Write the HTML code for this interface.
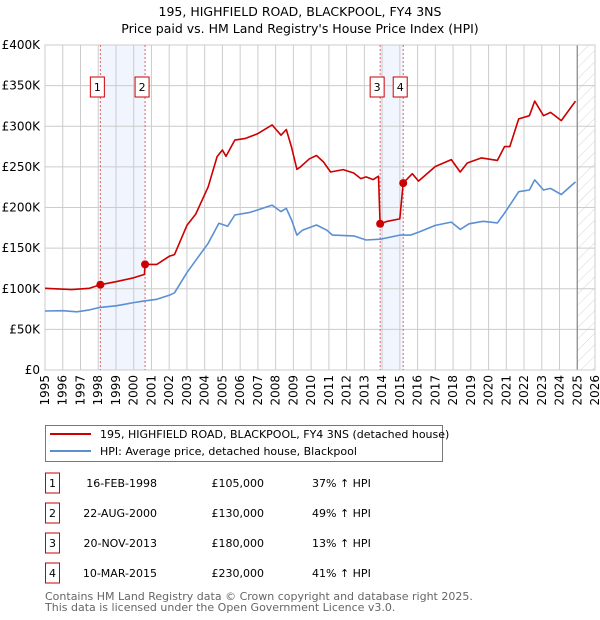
<!DOCTYPE html>
<html><head><meta charset="utf-8"><style>
body{margin:0;background:#fff;font-family:"Liberation Sans","DejaVu Sans",sans-serif;}
#wrap{position:relative;width:600px;height:620px;overflow:hidden}
svg text{font-family:"DejaVu Sans","Liberation Sans",sans-serif}
</style></head><body><div id="wrap">
<svg id="chart" width="600" height="620"></svg>
</div>
<script>
const hpiYears=[1995,1996,1996.8,1997.5,1998.1,1999,2000,2000.6,2001.3,2002,2002.3,2003,2003.5,2004.2,2004.8,2005.3,2005.7,2006.5,2007,2007.8,2008.3,2008.6,2008.9,2009.2,2009.5,2010.3,2010.9,2011.2,2012.4,2013.1,2013.9,2015,2015.6,2016.1,2017,2017.9,2018.4,2018.9,2019.7,2020.5,2020.9,2021.7,2022.3,2022.6,2023.1,2023.5,2024.1,2024.9];
const hpiValues=[72.6,73,71.6,74,77,79,83,85,87,92,95,119.8,135,156,180.5,177,190.8,193.7,197,203,195,199,184.6,166,172,178.5,172,166,165,160,161,166,166,170,178,182,173,180,183,181,193,219.5,221.5,234,221.5,223.5,216,231.5];
const priceYears=[1995,1996.5,1997.5,1998.12,1999,2000,2000.6,2000.64,2001.3,2002,2002.3,2003,2003.5,2004.2,2004.7,2005,2005.2,2005.7,2006.3,2007,2007.8,2008.3,2008.6,2008.9,2009.2,2009.4,2009.9,2010.3,2010.7,2011.1,2011.8,2012.4,2012.8,2013.1,2013.5,2013.8,2013.89,2014.3,2015.0,2015.19,2015.7,2016.05,2017,2017.9,2018.4,2018.8,2019.6,2020.5,2020.9,2021.2,2021.7,2022.3,2022.6,2023.1,2023.5,2024.1,2024.9];
const priceValues=[100.5,99,100.5,105,108.7,113.5,117.6,130,130,140,142,178,192,225.5,262.6,270.8,263,283,285,291,301.6,289,296,274,247,250,260,264,256,243.7,246.6,242.5,235.6,237.7,234.4,238.5,180,183,186,230,241.6,232.5,250.5,259,243.7,254.8,261,258,275,275,309,313,331,313,317,307,331];
const saleYears=[1998.12,2000.64,2013.89,2015.19];
const saleValues=[105,130,180,230];
const saleLabels=["1","2","3","4"];
const yTicks=[0,50,100,150,200,250,300,350,400];
const yTickLabels=["£0","£50K","£100K","£150K","£200K","£250K","£300K","£350K","£400K"];
const xTicks=[1995,1996,1997,1998,1999,2000,2001,2002,2003,2004,2005,2006,2007,2008,2009,2010,2011,2012,2013,2014,2015,2016,2017,2018,2019,2020,2021,2022,2023,2024,2025,2026];
const rows=[["1","16-FEB-1998","£105,000","37% ↑ HPI"],["2","22-AUG-2000","£130,000","49% ↑ HPI"],["3","20-NOV-2013","£180,000","13% ↑ HPI"],["4","10-MAR-2015","£230,000","41% ↑ HPI"]];

const L=45,R=595,T=45,B=370;
const xs=y=>L+(y-1995)*(R-L)/31;
const ys=v=>B-v*(B-T)/400;
const NS="http://www.w3.org/2000/svg";
const svg=document.getElementById('chart');
function mk(tag,attrs,parent){const e=document.createElementNS(NS,tag);for(const k in attrs)e.setAttribute(k,attrs[k]);(parent||svg).appendChild(e);return e;}
function txt(s,attrs){const e=mk('text',attrs);e.textContent=s;return e;}

let t=txt("195, HIGHFIELD ROAD, BLACKPOOL, FY4 3NS",{x:300,y:16,'text-anchor':'middle','font-size':12.5,fill:'#000'});

t=txt("Price paid vs. HM Land Registry's House Price Index (HPI)",{x:300,y:33,'text-anchor':'middle','font-size':12.5,fill:'#000'});


for(let i=0;i<4;i+=2){
  const b=mk('rect',{x:xs(saleYears[i]),y:T,width:xs(saleYears[i+1])-xs(saleYears[i]),height:B-T,fill:'#eef3fc',opacity:0.8});
  
}
const defs=mk('defs',{});
const pat=mk('pattern',{id:'h',width:8,height:8,patternUnits:'userSpaceOnUse',patternTransform:'rotate(45)'},defs);
mk('line',{x1:0,y1:0,x2:0,y2:8,stroke:'#ccc','stroke-width':0.8},pat);
yTicks.forEach((v,i)=>{
  const g=mk('line',{x1:L,x2:R,y1:ys(v),y2:ys(v),stroke:'#ccc','stroke-width':1});
  
  const l=txt(yTickLabels[i],{x:40,y:ys(v)+4,'text-anchor':'end','font-size':12,fill:'#000'});
  
});
xTicks.forEach(y=>{
  const g=mk('line',{x1:xs(y),x2:xs(y),y1:T,y2:B,stroke:'#ccc','stroke-width':1});
  
  const l=txt(String(y),{x:0,y:0,'text-anchor':'end','font-size':12,fill:'#000',transform:`translate(${xs(y)+4},${B+5}) rotate(-90)`});
  
});
const hz=mk('rect',{x:xs(2025),y:T,width:R-xs(2025),height:B-T,fill:'url(#h)'});

mk('line',{x1:xs(2025),x2:xs(2025),y1:T,y2:B,stroke:'#888','stroke-width':1.2});
const fr=mk('rect',{x:L,y:T,width:R-L,height:B-T,fill:'none',stroke:'#ccc'});

saleYears.forEach((y,i)=>{
  const d=mk('line',{x1:xs(y),x2:xs(y),y1:T,y2:B,stroke:'#e06060','stroke-width':1,'stroke-dasharray':'2,2'});
  
  const cx=xs(y)-3;
  const r=mk('rect',{x:cx-7,y:77,width:14,height:20,fill:'#fff',stroke:'#c00'});
  
  const l=txt(saleLabels[i],{x:cx,y:91,'text-anchor':'middle','font-size':11,fill:'#000'});
  
});
function path(xa,va,color,name){
  const d=xa.map((y,i)=>(i?'L':'M')+xs(y).toFixed(1)+','+ys(va[i]).toFixed(1)).join('');
  const p=mk('path',{d:d,fill:'none',stroke:color,'stroke-width':1.6,'stroke-linejoin':'round'});
  
}
path(hpiYears,hpiValues,'#5b8fd4','hpi-line');
path(priceYears,priceValues,'#cc0000','price-paid-line');
saleYears.forEach((y,i)=>{
  const c=mk('circle',{cx:xs(y),cy:ys(saleValues[i]),r:4,fill:'#cc0000'});
  
});
const lg=mk('rect',{x:45.5,y:425.5,width:397,height:36,fill:'#fff',stroke:'#777'});

mk('line',{x1:50,x2:91,y1:434,y2:434,stroke:'#cc0000','stroke-width':2});
t=txt("195, HIGHFIELD ROAD, BLACKPOOL, FY4 3NS (detached house)",{x:100,y:438,'font-size':11,fill:'#000'});

mk('line',{x1:50,x2:91,y1:451,y2:451,stroke:'#5b8fd4','stroke-width':2});
t=txt("HPI: Average price, detached house, Blackpool",{x:100,y:455,'font-size':11,fill:'#000'});

rows.forEach((r,i)=>{
  const cy=483+i*30;
  const b=mk('rect',{x:45.5,y:cy-10,width:14,height:20,fill:'#fff',stroke:'#c00'});
  
  let e=txt(r[0],{x:52.5,y:cy+4,'text-anchor':'middle','font-size':11,fill:'#000'});
  
  e=txt(r[1],{x:157,y:cy+4,'text-anchor':'end','font-size':11,fill:'#000'});
  
  e=txt(r[2],{x:264,y:cy+4,'text-anchor':'end','font-size':11,fill:'#000'});
  
  e=txt(r[3],{x:312,y:cy+4,'font-size':11,fill:'#000'});
  
});
t=txt("Contains HM Land Registry data © Crown copyright and database right 2025.",{x:45,y:600,'font-size':11,fill:'#666'});

t=txt("This data is licensed under the Open Government Licence v3.0.",{x:45,y:611,'font-size':11,fill:'#666'});

</script></body></html>
